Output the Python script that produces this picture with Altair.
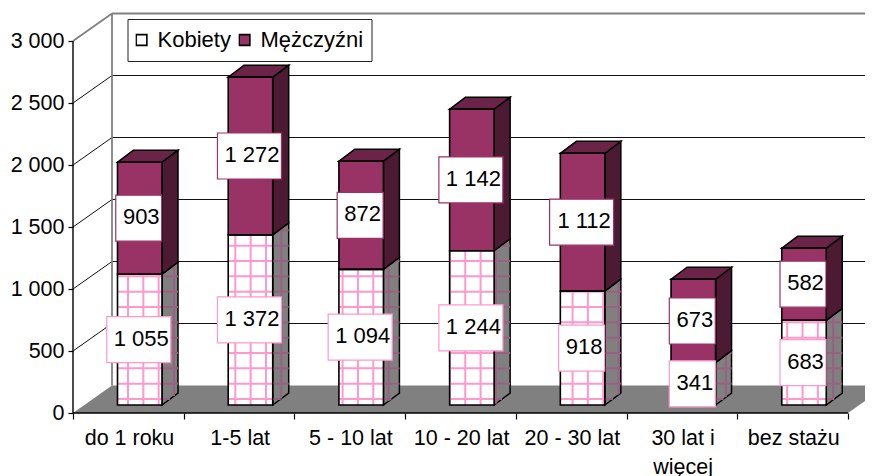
import altair as alt
import pandas as pd

categories = ["do 1 roku", "1-5 lat", "5 - 10 lat", "10 - 20 lat", "20 - 30 lat", "30 lat i\nwięcej", "bez stażu"]
kobiety = [1055, 1372, 1094, 1244, 918, 341, 683]
mezczyzni = [903, 1272, 872, 1142, 1112, 673, 582]
series_names = ["Kobiety", "Mężczyźni"]
y_ticks = [0, 500, 1000, 1500, 2000, 2500, 3000]

FONT = "Liberation Sans"
PINK = "#FF99CC"
PLUM = "#993366"
PLUM_SIDE = "#4D1A33"
PLUM_TOP = "#6B2448"
GREY = "#808080"
HATCH_SIDE = "#99607F"

# scale factors: pixels per category and per unit of value
PX_U = 110.71
PX_V = 0.124
WIDTH, HEIGHT = 792, 405
N = len(categories)


def du(px):
    return px / PX_U


def dv(px):
    return px / PX_V


X_DOM = [0, WIDTH / PX_U]
Y_DOM = [0, HEIGHT / PX_V]
x_s = alt.Scale(domain=X_DOM, nice=False, zero=False)
y_s = alt.Scale(domain=Y_DOM, nice=False, zero=False)

x_axis = alt.Axis(values=list(range(N + 1)), domain=False, grid=False, tickColor="black", tickSize=6,
                  tickWidth=1.2, labelFont=FONT, labelFontSize=21.5, labelColor="black", labelOffset=56,
                  labelPadding=8, labelLineHeight=29, labelFlush=False, labelOverlap=False,
                  labelBound=False, labelAlign="center", labelBaseline="top",
                  labelExpr="datum.value < %d ? split(%s[datum.value], '|') : ''" % (
                      N, "[" + ",".join("'%s'" % c.replace("\n", "|") for c in categories) + "]"))
y_axis = alt.Axis(values=y_ticks, domain=False, grid=False, tickColor="black", tickSize=5, tickWidth=1.2,
                  labelFont=FONT, labelFontSize=21.5, labelColor="black", labelPadding=4,
                  labelBound=False, labelFlush=False, labelOverlap=False,
                  labelExpr="replace(format(datum.value, ',d'), ',', ' ')")

WALL_U, WALL_V = du(39), dv(27.5)
BAR_OFF, BAR_W = du(44.5), du(44.5)
BASE_V = dv(8)
SIDE_U, SIDE_V = du(16), dv(12)


def X(f="x"):
    return alt.X(f"{f}:Q", scale=x_s, axis=x_axis, title=None)


def Y(f="y"):
    return alt.Y(f"{f}:Q", scale=y_s, axis=y_axis, title=None, stack=None)


def XX():
    return alt.X2("x2:Q")


def YY():
    return alt.Y2("y2:Q")


def segments(rows, **style):
    return alt.Chart(pd.DataFrame(rows)).mark_rule(**style).encode(x=X(), y=Y(), x2=XX(), y2=YY())


# Bars in category units
bars = []
for i in range(N):
    left = i + BAR_OFF
    bars.append(dict(i=i, left=left, right=left + BAR_W, k=kobiety[i], m=mezczyzni[i]))

# Axis lines
y_axis_line = segments([dict(x=0, x2=0, y=0, y2=3000)], color="black", strokeWidth=1.4)
x_axis_line = segments([dict(x=0, x2=N, y=0, y2=0)], color="black", strokeWidth=1.6)

# Walls and grid
far_right = N + WALL_U
floor = alt.Chart(pd.DataFrame([
    dict(y=0, x=0, x2=N), dict(y=WALL_V, x=WALL_U, x2=far_right)
])).mark_area(color=GREY, orient="horizontal").encode(x=X(), x2=XX(), y=Y())

grid_rows = []
for t in y_ticks[1:-1]:
    grid_rows.append(dict(x=0, x2=WALL_U, y=t, y2=t + WALL_V))
    grid_rows.append(dict(x=WALL_U, x2=far_right, y=t + WALL_V, y2=t + WALL_V))
grid = segments(grid_rows, color="#111111", strokeWidth=1)
wall_rows = [
    dict(x=WALL_U, x2=far_right, y=3000 + WALL_V, y2=3000 + WALL_V),
    dict(x=WALL_U, x2=WALL_U, y=WALL_V, y2=3000 + WALL_V),
    dict(x=0, x2=WALL_U, y=3000, y2=3000 + WALL_V),
]
wall = segments(wall_rows, color=GREY, strokeWidth=1.8)

# Side faces
side_rows, top_rows = [], []
for b in bars:
    for name, lo, hi in (("k", 0, b["k"]), ("m", b["k"], b["k"] + b["m"])):
        for frac in (0, 1):
            side_rows.append(dict(id=f"{b['i']}{name}", s=name, x=b["right"] + frac * SIDE_U,
                                  y=BASE_V + lo + frac * SIDE_V, y2=BASE_V + hi + frac * SIDE_V))
    top = BASE_V + b["k"] + b["m"]
    top_rows.append(dict(id=b["i"], y=top, x=b["left"], x2=b["right"]))
    top_rows.append(dict(id=b["i"], y=top + SIDE_V, x=b["left"] + SIDE_U, x2=b["right"] + SIDE_U))
side_df = pd.DataFrame(side_rows)
side_k = alt.Chart(side_df[side_df.s == "k"]).mark_area(color=GREY, stroke="black", strokeWidth=1.5).encode(
    x=X(), y=Y(), y2=YY(), detail="id:N")
side_m = alt.Chart(side_df[side_df.s == "m"]).mark_area(color=PLUM_SIDE, stroke="black", strokeWidth=1.5).encode(
    x=X(), y=Y(), y2=YY(), detail="id:N")
tops = alt.Chart(pd.DataFrame(top_rows)).mark_area(color=PLUM_TOP, stroke="black", strokeWidth=1.5,
                                                    orient="horizontal").encode(
    x=X(), x2=XX(), y=Y(), detail="id:N")

# Screen-aligned hatch pattern of the Kobiety series
HATCH_STEP = 15.33
hatch_x_px = [128 - 73 + HATCH_STEP * k for k in range(50)]
hatch_y_px = [413 - 399 + HATCH_STEP * k for k in range(20)]
front_h, side_h = [], []
for b in bars:
    lo, hi = BASE_V, BASE_V + b["k"]
    for px in hatch_x_px:
        u = du(px)
        if b["left"] < u < b["right"]:
            front_h.append(dict(x=u, x2=u, y=lo, y2=hi))
        elif b["right"] < u < b["right"] + SIDE_U:
            frac = (u - b["right"]) / SIDE_U
            side_h.append(dict(x=u, x2=u, y=lo + frac * SIDE_V, y2=hi + frac * SIDE_V))
    for py in hatch_y_px:
        v = dv(py)
        if lo < v < hi:
            front_h.append(dict(x=b["left"], x2=b["right"], y=v, y2=v))
        if lo < v < hi + SIDE_V:
            f0 = max(0.0, (v - hi) / SIDE_V)
            f1 = min(1.0, (v - lo) / SIDE_V)
            side_h.append(dict(x=b["right"] + f0 * SIDE_U, x2=b["right"] + f1 * SIDE_U, y=v, y2=v))
hatch_front = segments(front_h, color=PINK, strokeWidth=2)
hatch_side = segments(side_h, color=HATCH_SIDE, strokeWidth=2)

# Front faces (these carry the legend)
front_rows = []
for b in bars:
    front_rows.append(dict(seria=series_names[0], x=b["left"], x2=b["right"], y=BASE_V, y2=BASE_V + b["k"]))
    front_rows.append(dict(seria=series_names[1], x=b["left"], x2=b["right"], y=BASE_V + b["k"],
                           y2=BASE_V + b["k"] + b["m"]))
front_df = pd.DataFrame(front_rows)
front = alt.Chart(front_df).mark_bar(stroke=None, strokeWidth=0).encode(
    x=X(), x2=XX(), y=Y(), y2=YY(),
    color=alt.Color("seria:N", scale=alt.Scale(domain=series_names, range=["white", PLUM]),
                    legend=alt.Legend(title=None, orient="none", legendX=54.5, legendY=11, direction="horizontal",
                                      columns=2, fillColor="white", strokeColor="#222222", padding=8,
                                      clipHeight=26,
                                      symbolType="square", symbolSize=115, symbolStrokeColor="black",
                                      symbolStrokeWidth=1.6, labelFont=FONT, labelFontSize=22, labelColor="black",
                                      labelOffset=5, columnPadding=7, symbolOffset=-5)),
)
front_outline = alt.Chart(front_df).mark_bar(filled=False, stroke="black", strokeWidth=1.6).encode(
    x=X(), x2=XX(), y=Y(), y2=YY())

# Data labels in boxes
lab_rows = []
for b in bars:
    cx = (b["left"] + b["right"]) / 2 - du(1)
    for name, v, mid in ((series_names[0], b["k"], BASE_V + b["k"] / 2),
                         (series_names[1], b["m"], BASE_V + b["k"] + b["m"] / 2)):
        txt = f"{v:,}".replace(",", " ")
        half = du(32 if v >= 1000 else 23)
        lab_rows.append(dict(seria=name, txt=txt, cx=cx, x=cx - half, x2=cx + half, y=mid - dv(23), y2=mid + dv(23), my=mid))
lab_df = pd.DataFrame(lab_rows)
box_k = alt.Chart(lab_df[lab_df.seria == series_names[0]]).mark_rect(fill="white", stroke=PINK, strokeWidth=1.2).encode(
    x=X(), x2=XX(), y=Y(), y2=YY())
box_m = alt.Chart(lab_df[lab_df.seria == series_names[1]]).mark_rect(fill="white", stroke=PLUM, strokeWidth=1.2).encode(
    x=X(), x2=XX(), y=Y(), y2=YY())
texts = alt.Chart(lab_df).mark_text(font=FONT, fontSize=22, color="black", baseline="middle", align="center", dx=2.5, dy=-1).encode(
    x=X("cx"), y=Y("my"), text="txt:N")

chart = alt.layer(
    grid, wall, floor, y_axis_line, x_axis_line,
    side_k, hatch_side, side_m, tops, front, hatch_front, front_outline,
    box_k, box_m, texts,
).properties(
    width=WIDTH, height=HEIGHT,
    autosize=alt.AutoSizeParams(type="none"),
    padding={"left": 65, "top": 0, "right": 0, "bottom": 63},
    background="white",
).configure_view(stroke=None)

chart.save("out.html", embed_options={"renderer": "svg", "actions": False})
